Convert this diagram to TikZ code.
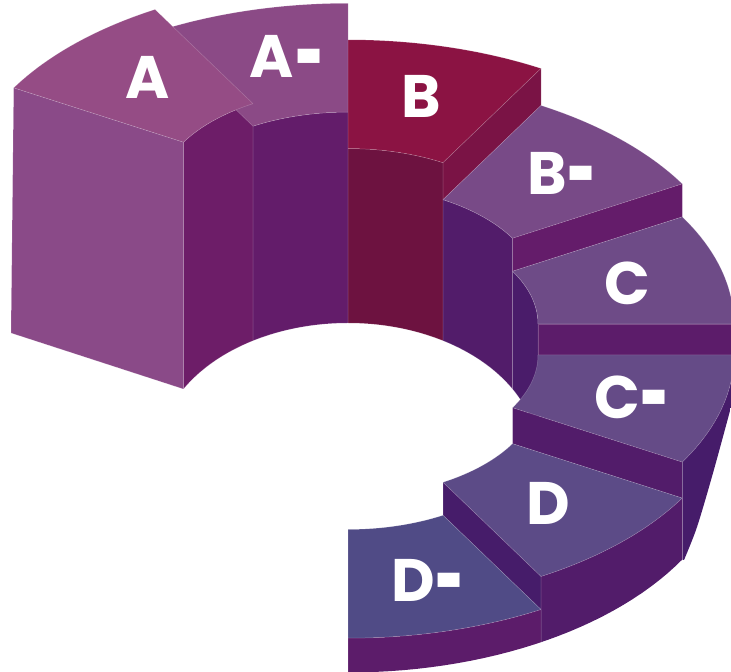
\documentclass[tikz,border=0pt]{standalone}
\usepackage{fontspec}
\usepackage{graphicx}
\newfontfamily\lblfont{Poppins}
\def\Ro{386}
\def\Ri{190}
\def\Kk{0.555}
\newcommand{\Dash}{\kern1pt\raisebox{-14pt}[0pt][0pt]{\scalebox{0.83}[1.67]{-}}}
\tikzset{
  edgeln/.style={draw=white, draw opacity=0.22, line width=0.5pt, line join=round},
  lbl/.style={text=white, inner sep=0pt, font=\lblfont\bfseries\fontsize{60}{60}\selectfont}
}
% top face of a segment: level (image y of centre), angle from, angle to, colour
\newcommand{\TopFace}[4]{\fill[#4,edgeln] plot[domain=#2:#3,samples=40,variable=\t] ({348+\Ro*sin(\t)},{672-#1+\Kk*\Ro*cos(\t)}) -- plot[domain=#3:#2,samples=40,variable=\t] ({348+\Ri*sin(\t)},{672-#1+\Kk*\Ri*cos(\t)}) -- cycle;}
% inner (hole) face
\newcommand{\InnerFace}[4]{\fill[#4,edgeln] plot[domain=#2:#3,samples=30,variable=\t] ({348+\Ri*sin(\t)},{672-#1+\Kk*\Ri*cos(\t)}) -- plot[domain=#3:#2,samples=30,variable=\t] ({348+\Ri*sin(\t)},{217+132*cos(\t)}) -- cycle;}
% step face at angle #1 between levels #2 (upper) and #3 (lower)
\newcommand{\StepFace}[4]{\fill[#4,edgeln] ({348+\Ri*sin(#1)},{672-#2+\Kk*\Ri*cos(#1)}) -- ({348+\Ro*sin(#1)},{672-#2+\Kk*\Ro*cos(#1)}) -- ({348+\Ro*sin(#1)},{672-#3+\Kk*\Ro*cos(#1)}) -- ({348+\Ri*sin(#1)},{672-#3+\Kk*\Ri*cos(#1)}) -- cycle;}
% outer face (clipped at the base later)
\newcommand{\OuterFace}[4]{\fill[#4,edgeln] plot[domain=#2:#3,samples=30,variable=\t] ({348+\Ro*sin(\t)},{672-#1+\Kk*\Ro*cos(\t)}) -- ({348+\Ro*sin(#3)},-40) -- ({348+\Ro*sin(#2)},-40) -- cycle;}
\definecolor{Atop}{HTML}{954C85}
\definecolor{Afront}{HTML}{8A4A88}
\definecolor{Ainner}{HTML}{6D1D68}
\definecolor{Amtop}{HTML}{8B4A86}
\definecolor{Aminner}{HTML}{631C6A}
\definecolor{Btop}{HTML}{8B1343}
\definecolor{Binner}{HTML}{6D1240}
\definecolor{Bend}{HTML}{7A1345}
\definecolor{Bmtop}{HTML}{784A87}
\definecolor{Bminner}{HTML}{521C6A}
\definecolor{Bmend}{HTML}{641C6A}
\definecolor{Ctop}{HTML}{6E4B87}
\definecolor{Cinner}{HTML}{4A1C6A}
\definecolor{Cend}{HTML}{5C1C6A}
\definecolor{Cmtop}{HTML}{654B87}
\definecolor{Cmend}{HTML}{521C6A}
\definecolor{Cmouter}{HTML}{461C6A}
\definecolor{Dtop}{HTML}{5C4B87}
\definecolor{Dend}{HTML}{461C6A}
\definecolor{Douter}{HTML}{521C6A}
\definecolor{Dmtop}{HTML}{504B86}
\definecolor{Dmouter}{HTML}{5C1C6A}
\begin{document}
\begin{tikzpicture}[x=1pt,y=1pt]
\useasboundingbox (0,0) rectangle (731,672);
% inner faces seen through the hole
\InnerFace{195}{-60}{-30}{Ainner}
\InnerFace{217.5}{-30}{0}{Aminner}
\InnerFace{254}{0}{30}{Binner}
\InnerFace{291}{30}{60}{Bminner}
\InnerFace{324}{60}{90}{Cinner}
% back tops
\TopFace{217.5}{-30}{0}{Amtop}
\TopFace{254}{0}{30}{Btop}
% A block
\TopFace{195}{-60}{-30}{Atop}
\fill[Afront,edgeln] ({348+\Ro*sin(-60)},{672-195+\Kk*\Ro*cos(-60)}) -- ({348+\Ri*sin(-60)},{672-195+\Kk*\Ri*cos(-60)}) -- ({348+\Ri*sin(-60)},{217+132*cos(-60)}) -- (11,339) -- cycle;
% stepping down clockwise
\StepFace{30}{254}{291}{Bend}
\TopFace{291}{30}{60}{Bmtop}
\StepFace{60}{291}{324}{Bmend}
\TopFace{324}{60}{90}{Ctop}
\StepFace{90}{324}{355}{Cend}
\TopFace{355}{90}{120}{Cmtop}
\StepFace{120}{355}{391}{Cmend}
\TopFace{391}{120}{150}{Dtop}
\StepFace{150}{391}{424}{Dend}
\TopFace{424}{150}{180}{Dmtop}
% outer faces, cut at the base
\begin{scope}
\clip (-10,700) -- (745,700) -- (745,302) -- plot[smooth] coordinates {(740,300) (731,265) (713,199) (697,145) (684,112)} -- plot[domain=120:180,samples=30,variable=\t] ({348+386*sin(\t)},{225.5+226*cos(\t)}) -- (340,-20) -- (-10,-20) -- cycle;
\OuterFace{355}{90}{120}{Cmouter}
\OuterFace{391}{120}{150}{Douter}
\OuterFace{424}{150}{180}{Dmouter}
\end{scope}
% labels
\node[lbl] (labA)  at (148,595) {A};
\node[lbl] (labAm) at (287,616) {A\Dash};
\node[lbl] (labB)  at (421,576) {B};
\node[lbl] (labBm) at (562,499) {B\Dash};
\node[lbl] (labC)  at (627,389) {C};
\node[lbl] (labCm) at (632,275) {C\Dash};
\node[lbl] (labD)  at (548,169) {D};
\node[lbl] (labDm) at (428,92) {D\Dash};
\end{tikzpicture}
\end{document}
